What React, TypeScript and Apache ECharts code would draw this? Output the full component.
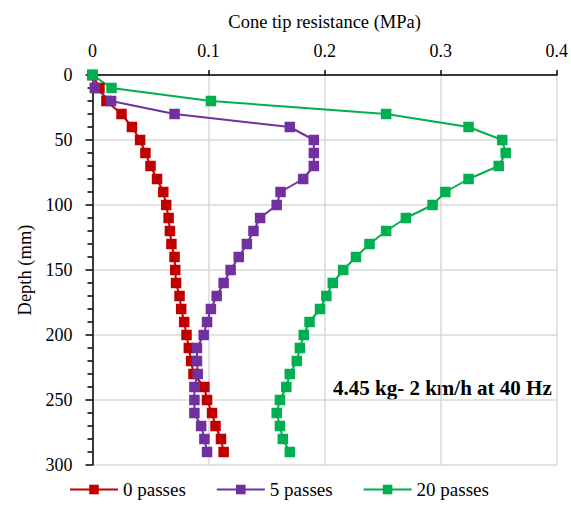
import React, { useEffect, useRef } from "react";
import * as echarts from "echarts";

const depths = [0, 10, 20, 30, 40, 50, 60, 70, 80, 90, 100, 110, 120, 130, 140, 150, 160, 170, 180, 190, 200, 210, 220, 230, 240, 250, 260, 270, 280, 290];

const passes0 = [0, 0.006, 0.012, 0.025, 0.034, 0.041, 0.0456, 0.05, 0.0556, 0.061, 0.0635, 0.0656, 0.0667, 0.068, 0.0707, 0.0713, 0.072, 0.075, 0.0764, 0.079, 0.081, 0.083, 0.085, 0.087, 0.0964, 0.0987, 0.103, 0.106, 0.1107, 0.113];
const passes5 = [0, 0.002, 0.016, 0.0707, 0.17, 0.1907, 0.1907, 0.1907, 0.1815, 0.162, 0.1587, 0.1444, 0.1387, 0.133, 0.126, 0.119, 0.113, 0.107, 0.102, 0.0987, 0.0958, 0.09, 0.09, 0.0907, 0.0878, 0.0878, 0.0878, 0.0936, 0.0964, 0.0987];
const passes20 = [0, 0.0164, 0.102, 0.253, 0.324, 0.353, 0.356, 0.35, 0.324, 0.304, 0.293, 0.27, 0.253, 0.2387, 0.227, 0.216, 0.207, 0.2015, 0.196, 0.187, 0.182, 0.1787, 0.176, 0.17, 0.167, 0.1615, 0.1587, 0.1615, 0.164, 0.17];

const seriesNames = ["0 passes", "5 passes", "20 passes"];
const seriesColors = ["#C00000", "#7030A0", "#00B050"];
const annotation = "4.45 kg- 2 km/h at 40 Hz";

const FONT = "Liberation Serif";

export default function App() {
  const ref = useRef<HTMLDivElement>(null);
  useEffect(() => {
    if (!ref.current) return;
    const chart = echarts.init(ref.current, null, { renderer: "svg" });
    const all = [passes0, passes5, passes20];
    chart.setOption({
      animation: false,
      textStyle: { fontFamily: FONT },
      grid: { left: 92.5, top: 75, right: 12, bottom: 41, containLabel: false },
      xAxis: {
        type: "value",
        position: "top",
        min: 0,
        max: 0.4,
        interval: 0.1,
        name: "Cone tip resistance (MPa)",
        nameLocation: "middle",
        nameGap: 44,
        nameTextStyle: { fontFamily: FONT, fontSize: 18.5, color: "#000" },
        axisLine: { show: true, lineStyle: { color: "#000", width: 1.5 } },
        axisTick: { show: true, inside: false, length: 5, lineStyle: { color: "#000", width: 1.5 } },
        axisLabel: {
          fontFamily: FONT,
          fontSize: 18,
          color: "#000",
          margin: 15,
          formatter: (v: number) => (v === 0 ? "0" : String(Math.round(v * 10) / 10)),
        },
        splitLine: { show: true, lineStyle: { color: "#d9d9d9", width: 1.5 } },
      },
      yAxis: {
        type: "value",
        inverse: true,
        min: 0,
        max: 300,
        interval: 50,
        name: "Depth (mm)",
        nameLocation: "middle",
        nameGap: 58,
        nameTextStyle: { fontFamily: FONT, fontSize: 18.5, color: "#000" },
        axisLine: { show: true, lineStyle: { color: "#000", width: 1.5 } },
        axisTick: { show: true, inside: false, length: 7, lineStyle: { color: "#000", width: 1.5 } },
        minorTick: { show: true, splitNumber: 5, length: 5, lineStyle: { color: "#000", width: 1.5 } },
        axisLabel: { fontFamily: FONT, fontSize: 18, color: "#000", margin: 20 },
        splitLine: { show: true, lineStyle: { color: "#d9d9d9", width: 1.5 } },
      },
      legend: {
        bottom: 2,
        left: 64,
        itemWidth: 48,
        itemHeight: 12,
        itemGap: 30,
        textStyle: { fontFamily: FONT, fontSize: 19, color: "#000" },
        data: seriesNames,
      },
      graphic: [
        {
          type: "text",
          left: 333,
          top: 377,
          style: {
            text: annotation,
            fontFamily: FONT,
            fontSize: 21,
            fontWeight: "bold",
            fill: "#000",
          },
        },
      ],
      series: seriesNames.map((name, i) => ({
        name,
        type: "line",
        data: depths.map((d, j) => [all[i][j], d]),
        symbol: "rect",
        symbolSize: 10.5,
        itemStyle: { color: seriesColors[i] },
        lineStyle: { color: seriesColors[i], width: 2 },
      })),
    });
    return () => chart.dispose();
  }, []);
  return <div ref={ref} style={{ position: "absolute", left: 0, top: 0, width: 571, height: 506 }} />;
}
